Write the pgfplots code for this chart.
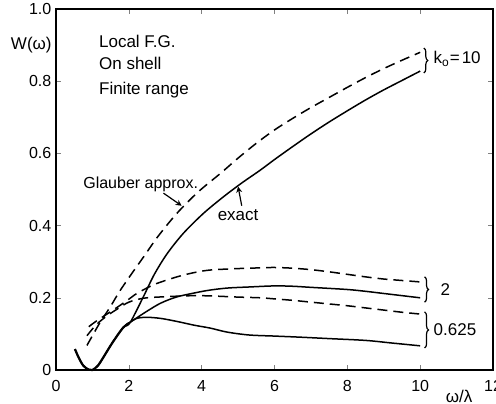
\documentclass[border=0pt]{standalone}
\usepackage{fontspec}
\setmainfont{Liberation Sans}
\usepackage{pgfplots}
\pgfplotsset{compat=1.18}
\usetikzlibrary{decorations.pathreplacing,arrows.meta}

\pgfplotstableread{
x y
0.52 0.058
0.62 0.035
0.75 0.012
0.9 0.001
1.0 0.0
1.15 0.012
1.3 0.035
1.5 0.068
1.7 0.098
1.85 0.118
2.0 0.13
}\shared

\begin{document}
\begin{tikzpicture}
\begin{axis}[
  scale only axis, width=218.5pt, height=180.5pt,
  xmin=0, xmax=12, ymin=0, ymax=1,
  xtick={0,2,...,12},
  ytick={0,0.2,0.4,0.6,0.8,1.0},
  yticklabels={0,0.2,0.4,0.6,0.8,1.0},
  tick align=inside, major tick length=2.5pt,
  axis line style={line width=0.8pt},
  /pgf/number format/assume math mode=true,
  ticklabel style={font=\fontsize{8}{9}\selectfont},
  xticklabel style={yshift=-1.5pt},
  yticklabel style={xshift=1.2pt},
  clip=false,
  every axis plot/.append style={line width=0.75pt, black},
]
% exact, k0 = 10
\addplot[smooth] table[x=x,y=y] {\shared};
\addplot[smooth] coordinates {(1.9,0.122) (2.04,0.132) (2.4,0.203) (2.7,0.265) (3.05,0.322) (3.5,0.379) (4.05,0.434) (4.6,0.48) (5.1,0.518) (5.6,0.553) (6.0,0.583) (6.5,0.619) (7.0,0.654) (7.5,0.687) (8.0,0.718) (8.5,0.748) (9.0,0.776) (9.5,0.802) (10,0.828)};
% exact, k0 = 2
\addplot[smooth] coordinates {(1.85,0.118) (2.0,0.13) (2.15,0.14) (2.5,0.163) (2.87,0.185) (3.3,0.202) (3.78,0.213) (4.2,0.221) (4.7,0.227) (5.3,0.230) (6.0,0.233) (6.5,0.232) (7.0,0.229) (8.0,0.223) (8.5,0.218) (9.0,0.212) (10,0.2)};
% exact, k0 = 0.625
\addplot[smooth] coordinates {(1.85,0.118) (2.0,0.13) (2.22,0.143) (2.5,0.146) (2.87,0.143) (3.3,0.135) (3.8,0.124) (4.24,0.116) (4.7,0.105) (5.3,0.097) (6.0,0.094) (6.7,0.091) (7.5,0.087) (8.5,0.082) (9.2,0.075) (10,0.067)};
\addplot[smooth, line width=1.1pt] table[x=x,y=y] {\shared};
% Glauber k0 = 10
\addplot[smooth, dash pattern=on 5pt off 3pt] coordinates {(0.85,0.068) (1.0,0.095) (1.2,0.13) (1.49,0.175) (1.76,0.22) (2.1,0.27) (2.41,0.314) (2.8,0.37) (3.32,0.434) (3.9,0.493) (4.52,0.545) (5.0,0.587) (5.5,0.628) (6.0,0.665) (6.5,0.697) (7.0,0.727) (7.5,0.755) (8.0,0.783) (8.5,0.81) (9.0,0.835) (9.5,0.858) (10,0.88)};
% Glauber k0 = 2
\addplot[smooth, dash pattern=on 5pt off 3pt] coordinates {(0.9,0.12) (1.1,0.135) (1.4,0.155) (1.7,0.175) (2.0,0.196) (2.22,0.212) (2.7,0.237) (3.32,0.258) (3.8,0.27) (4.24,0.277) (5.0,0.281) (5.62,0.283) (6.0,0.284) (6.5,0.282) (7.0,0.278) (7.5,0.272) (8.0,0.265) (8.5,0.258) (9.0,0.252) (9.5,0.248) (10,0.244)};
% Glauber k0 = 0.625
\addplot[smooth, dash pattern=on 5pt off 3pt] coordinates {(0.85,0.095) (1.1,0.125) (1.4,0.15) (1.7,0.17) (2.0,0.188) (2.41,0.199) (3.0,0.203) (3.78,0.206) (4.3,0.205) (5.0,0.202) (5.62,0.2) (6.0,0.197) (6.5,0.193) (7.0,0.188) (7.5,0.183) (8.0,0.178) (8.5,0.172) (9.0,0.166) (9.5,0.16) (10,0.155)};

% texts
\node[anchor=west, font=\fontsize{8.5}{10}\selectfont] at (axis cs:0.99,0.911) {Local F.G.};
\node[anchor=west, font=\fontsize{8.5}{10}\selectfont] at (axis cs:0.99,0.848) {On shell};
\node[anchor=west, font=\fontsize{8.5}{10}\selectfont] at (axis cs:0.99,0.776) {Finite range};
\node[anchor=west, font=\fontsize{8}{10}\selectfont, inner sep=0pt] at (axis cs:0.74,0.515) {Glauber approx.};
\draw[-{Stealth[length=3pt,width=3pt]}, line width=0.6pt] (axis cs:2.95,0.49) -- (axis cs:3.45,0.455);
\node[font=\fontsize{8.5}{10}\selectfont, inner sep=0pt] at (axis cs:5.0,0.43) {exact};
\draw[-{Stealth[length=3pt,width=3pt]}, line width=0.6pt] (axis cs:5.1,0.455) -- (axis cs:5.0,0.508);
% braces
\draw[decorate, decoration={brace, amplitude=2pt}, line width=0.6pt] (axis cs:10.1,0.892) -- (axis cs:10.1,0.823);
\node[anchor=west, font=\fontsize{8.5}{10}\selectfont, inner sep=0pt] at (axis cs:10.36,0.861) {k\raisebox{-0.35ex}{\fontsize{6}{7}\selectfont o}\kern0.5pt=\kern1pt10};
\draw[decorate, decoration={brace, amplitude=2pt}, line width=0.6pt] (axis cs:10.12,0.258) -- (axis cs:10.12,0.188);
\node[anchor=west, font=\fontsize{8.5}{10}\selectfont, inner sep=0pt] at (axis cs:10.55,0.222) {2};
\draw[decorate, decoration={brace, amplitude=2pt}, line width=0.6pt] (axis cs:10.12,0.161) -- (axis cs:10.12,0.061);
\node[anchor=west, font=\fontsize{8.5}{10}\selectfont, inner sep=0pt] at (axis cs:10.36,0.111) {0.625};
% axis labels
\node[anchor=east, font=\fontsize{8.5}{10}\selectfont, inner sep=0pt] at ([xshift=-2pt]rel axis cs:0,0.90) {W(ω)};
\node[font=\fontsize{8.5}{10}\selectfont, inner sep=0pt] at ([yshift=-13pt]axis cs:11.07,0) {ω/λ};
\coordinate (ll) at (rel axis cs:0,0);
\coordinate (ur) at (rel axis cs:1,1);
\end{axis}
\pgfresetboundingbox
\path ([shift={(-28pt,-16.5pt)}]ll) rectangle ([shift={(1.5pt,4.5pt)}]ur);
\end{tikzpicture}
\end{document}
